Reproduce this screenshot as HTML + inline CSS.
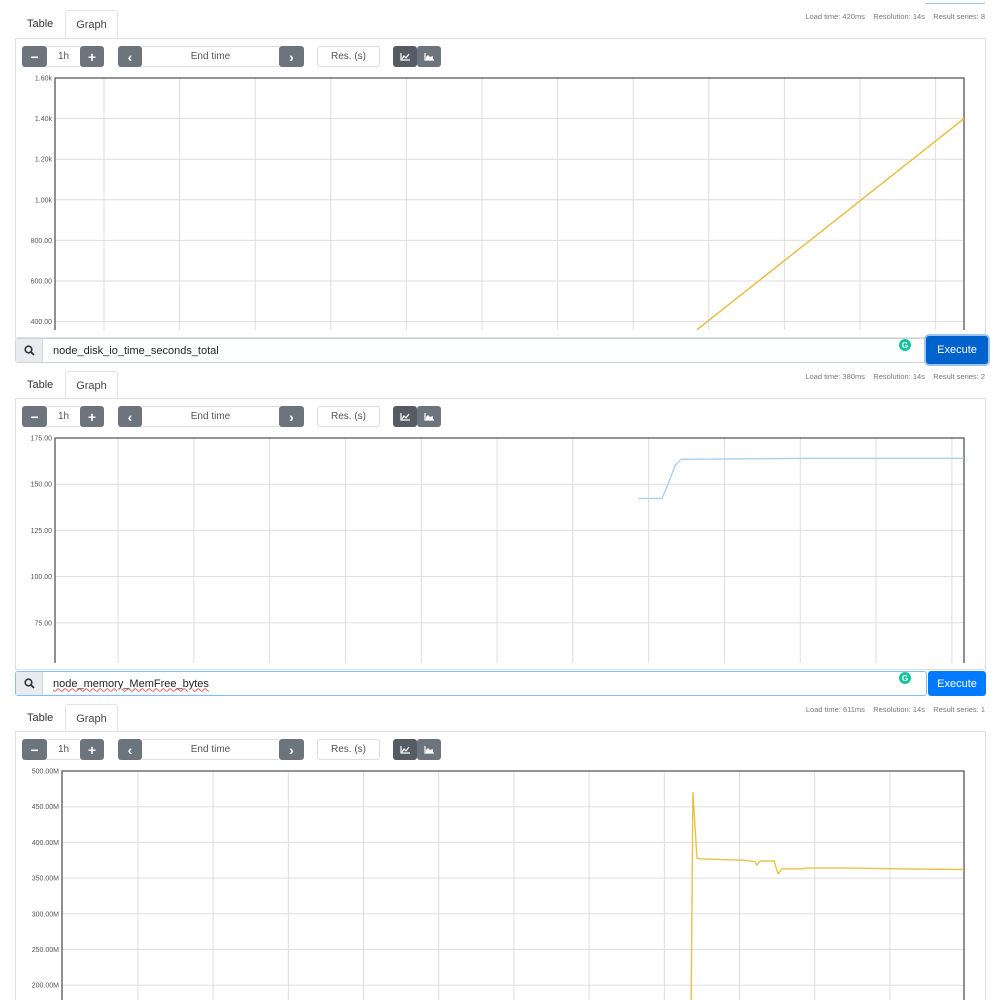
<!DOCTYPE html>
<html><head><meta charset="utf-8">
<style>
*{box-sizing:border-box;margin:0;padding:0}
html,body{width:1000px;height:1000px;overflow:hidden}
body{background:#fff;font-family:"Liberation Sans",sans-serif;color:#212529;position:relative}
.abs{position:absolute}
.tabtxt{font-size:11px;color:#333}
.graphtab{border:1px solid #e3e3e3;border-bottom:none;border-radius:3px 3px 0 0;background:#fff;font-size:11px;display:flex;align-items:center;justify-content:center;color:#444}
.panel{border:1px solid #dfdfdf;background:#fff}
.btn{background:#6c757d;color:#fff;font-size:14px;display:flex;align-items:center;justify-content:center;font-weight:bold}
.field{border-top:1px solid #ddd;border-bottom:1px solid #ddd;background:#fff;font-size:10px;color:#555;display:flex;align-items:center;justify-content:center}
.res{border:1px solid #ddd;border-radius:3px;font-size:10px;color:#555;display:flex;align-items:center;justify-content:center}
.status{font-size:7.5px;color:#777;white-space:nowrap;text-align:right;right:15px}
.search{border:1px solid #ced4da;border-radius:3px;background:#fff;font-size:11px;display:flex;align-items:center}
.icon{background:#e9ecef;width:27px;height:100%;border-right:1px solid #ced4da;display:flex;align-items:center;justify-content:center}
.exec{color:#fff;font-size:11px;display:flex;align-items:center;justify-content:center;border-radius:3px}
.gram{width:12px;height:12px;border-radius:50%;background:#15c39a;color:#fff;font-size:8px;font-weight:bold;display:flex;align-items:center;justify-content:center}
svg text{font-family:"Liberation Sans",sans-serif;font-size:7px;fill:#555}
</style></head><body>
<div class="abs" style="left:925px;top:3px;width:60px;height:1px;background:#9cc6ee"></div>

<div id="p1">
<div class="abs tabtxt" style="left:27px;top:18px">Table</div>
<div class="abs graphtab" style="left:65px;top:10px;width:53px;height:29px">Graph</div>
<div class="abs status" style="top:12px">Load time: 420ms &nbsp;&nbsp; Resolution: 14s &nbsp;&nbsp; Result series: 8</div>
<div class="abs panel" style="left:15px;top:38px;width:971px;height:300px"></div>
</div>

<div id="p2">
<div class="abs search" style="left:15px;top:338px;width:912px;height:25px"><div class="icon"><svg width="11" height="11" viewBox="0 0 11 11"><circle cx="4.5" cy="4.5" r="3.3" fill="none" stroke="#333" stroke-width="1.6"/><line x1="7" y1="7" x2="10" y2="10" stroke="#333" stroke-width="1.8"/></svg></div><span style="margin-left:10px">node_disk_io_time_seconds_total</span></div>
<div class="abs gram" style="left:899px;top:339px">G</div>
<div class="abs exec" style="left:926px;top:336px;width:62px;height:28px;background:#0062cc;box-shadow:0 0 0 2px #9ec5f0">Execute</div>
<div class="abs tabtxt" style="left:27px;top:379px">Table</div>
<div class="abs graphtab" style="left:65px;top:371px;width:53px;height:28px">Graph</div>
<div class="abs status" style="top:372px">Load time: 380ms &nbsp;&nbsp; Resolution: 14s &nbsp;&nbsp; Result series: 2</div>
<div class="abs panel" style="left:15px;top:398px;width:971px;height:272px"></div>
</div>

<div id="p3">
<div class="abs search" style="left:15px;top:671px;width:912px;height:25px;border-color:#80bdff"><div class="icon"><svg width="11" height="11" viewBox="0 0 11 11"><circle cx="4.5" cy="4.5" r="3.3" fill="none" stroke="#333" stroke-width="1.6"/><line x1="7" y1="7" x2="10" y2="10" stroke="#333" stroke-width="1.8"/></svg></div><span style="margin-left:10px;text-decoration:underline wavy #e06060 1px">node_memory_MemFree_bytes</span></div>
<div class="abs gram" style="left:899px;top:672px">G</div>
<div class="abs exec" style="left:928px;top:671px;width:58px;height:25px;background:#007bff">Execute</div>
<div class="abs tabtxt" style="left:27px;top:712px">Table</div>
<div class="abs graphtab" style="left:65px;top:704px;width:53px;height:28px">Graph</div>
<div class="abs status" style="top:705px">Load time: 611ms &nbsp;&nbsp; Resolution: 14s &nbsp;&nbsp; Result series: 1</div>
<div class="abs panel" style="left:15px;top:731px;width:971px;height:269px;border-bottom:none"></div>
</div>

<svg id="s1" class="abs" style="left:0;top:70px;overflow:hidden" width="1000" height="260"></svg>
<svg id="s2" class="abs" style="left:0;top:430px;overflow:hidden" width="1000" height="233"></svg>
<svg id="s3" class="abs" style="left:0;top:763px;overflow:hidden" width="1000" height="237"></svg>

<script>
// chart 1
const c1Ticks = [1600, 1400, 1200, 1000, 800, 600, 400];
const c1TickLabels = ["1.60k","1.40k","1.20k","1.00k","800.00","600.00","400.00"];
const c1Times = [42.46, 60.12];
const c1Values = [360, 1400];
// chart 2
const c2Ticks = [175, 150, 125, 100, 75];
const c2TickLabels = ["175.00","150.00","125.00","100.00","75.00"];
const c2Times = [38.46, 40.04, 40.44, 40.9, 41.29, 45, 50, 59.96];
const c2Values = [142.3, 142.3, 150, 160, 163.5, 163.7, 164, 164];
// chart 3
const c3Ticks = [500, 450, 400, 350, 300, 250, 200];
const c3TickLabels = ["500.00M","450.00M","400.00M","350.00M","300.00M","250.00M","200.00M"];
const c3Times = [41.82, 41.95, 42.22, 42.42, 45.41, 46.08, 46.21, 46.41, 47.34, 47.61, 47.87, 49.27, 49.4, 52.39, 55.72, 59.97];
const c3Values = [150, 470, 378, 377, 375, 373, 368, 374, 374, 356, 363, 363, 364, 364, 363, 362];

const NS = "http://www.w3.org/2000/svg";
function mk(svg, tag, attrs){const e=document.createElementNS(NS,tag);for(const k in attrs)e.setAttribute(k,attrs[k]);svg.appendChild(e);return e;}

function chart(id, o){
  const svg=document.getElementById(id);
  const L=o.left,R=964,T=8,B=+svg.getAttribute("height");
  const pxPerMin=o.gridPx/5;
  const xs=t=>L+t*pxPerMin;
  const ys=v=>T+(o.top-v)/o.step*o.stepPx;
  for(let g=o.gridOff; xs(g)<R; g+=5){
    const l=mk(svg,"line",{x1:xs(g),x2:xs(g),y1:T,y2:B,stroke:"#ddd","stroke-width":1});
    
    
  }
  o.ticks.forEach((v,i)=>{
    const l=mk(svg,"line",{x1:L,x2:R,y1:ys(v),y2:ys(v),stroke:"#ddd","stroke-width":1});
    
    
    const t=mk(svg,"text",{x:L-3,y:ys(v)+2.5,"text-anchor":"end"});
    t.textContent=o.labels[i];
    
    
  });
  const f=mk(svg,"path",{d:`M${L},${B}V${T}H${R}V${B}`,fill:"none",stroke:"#555","stroke-width":1.3});
  
  
  const d=o.times.map((t,i)=>(i?"L":"M")+xs(t).toFixed(1)+","+ys(o.values[i]).toFixed(1)).join("");
  const p=mk(svg,"path",{d:d,fill:"none",stroke:o.color,"stroke-width":1.4,"stroke-linejoin":"round"});
  
  
}
chart("s1",{left:55,gridPx:75.6,gridOff:3.24,top:1600,step:200,stepPx:40.6,ticks:c1Ticks,labels:c1TickLabels,times:c1Times,values:c1Values,color:"#e5bd3a"});
chart("s2",{left:55,gridPx:75.8,gridOff:4.16,top:175,step:25,stepPx:46.2,ticks:c2Ticks,labels:c2TickLabels,times:c2Times,values:c2Values,color:"#a9d1ee"});
chart("s3",{left:62,gridPx:75.2,gridOff:5.05,top:500,step:50,stepPx:35.7,ticks:c3Ticks,labels:c3TickLabels,times:c3Times,values:c3Values,color:"#e8c247"});

const lineIcon='<svg width="10" height="8" viewBox="0 0 10 8"><path d="M1,0V7H10" fill="none" stroke="#fff" stroke-width="1.2"/><path d="M2,6L4,3L6,5L9,1" fill="none" stroke="#fff" stroke-width="1.2"/></svg>';
const areaIcon='<svg width="10" height="8" viewBox="0 0 10 8"><path d="M1,0V7H10" fill="none" stroke="#fff" stroke-width="1.2"/><path d="M2,7V4L4,2L6,4L9,3V7Z" fill="#fff"/></svg>';
function controls(top){
  const items=[
    ["btn",22,25,"−","range-decrease-button"],["field",47,33,"1h","range-input"],["btn",80,24,"+","range-increase-button"],
    ["btn",118,24,"‹","end-time-back-button"],["field",142,137,"End time","end-time-input"],["btn",279,25,"›","end-time-forward-button"],
    ["res",317,63,"Res. (s)","resolution-input"],["btn",393,24,"","line-chart-toggle"],["btn",417,24,"","stacked-chart-toggle"]];
  items.forEach(it=>{
    const e=document.createElement("div");
    e.className="abs "+it[0];
    e.style.cssText=`left:${it[1]}px;top:${top}px;width:${it[2]}px;height:21px;`+(it[0]=="btn"?"border-radius:3px;":"");
    if(it[4]=="line-chart-toggle"){e.style.background="#545b62";e.innerHTML=lineIcon;}
    else if(it[4]=="stacked-chart-toggle"){e.innerHTML=areaIcon;}
    else e.textContent=it[3];
    
    
    document.body.appendChild(e);
  });
}
controls(46);controls(406);controls(739);
</script>
</body></html>
